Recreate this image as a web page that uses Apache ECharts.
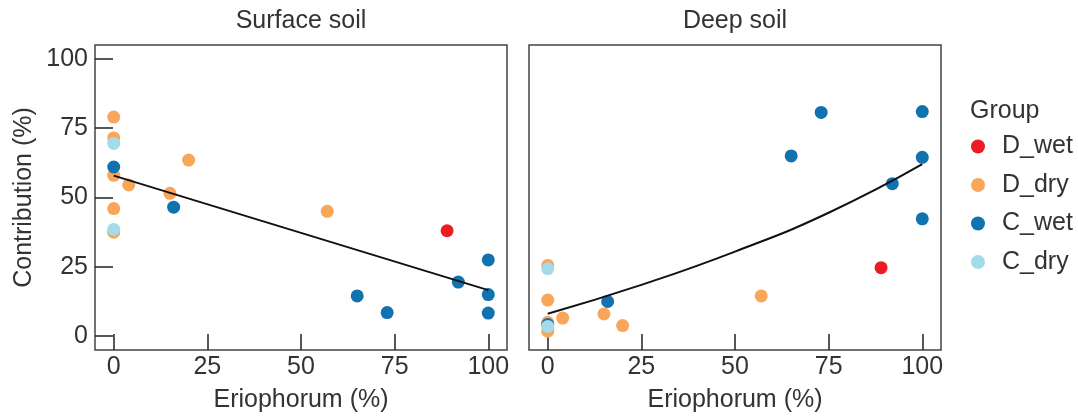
<!DOCTYPE html>
<html>
<head>
<meta charset="utf-8">
<script src="https://cdn.jsdelivr.net/npm/echarts@6/dist/echarts.min.js"></script>
<style>html,body{margin:0;padding:0;background:#fff;}#c{width:1078px;height:417px;}</style>
</head>
<body>
<div id="c"></div>
<script>
// ---- data ----
const panelTitles = ['Surface soil', 'Deep soil'];
const groups = ['D_wet', 'D_dry', 'C_wet', 'C_dry'];
const tickValues = [0, 25, 50, 75, 100];

// Surface soil: [Eriophorum %, Contribution %]
const surfDWet = [[89, 38]];
const surfDDry = [[0, 79], [0, 71.5], [0, 58], [0, 46], [0, 37.5], [4, 54.5], [15, 51.5], [20, 63.5], [57, 45]];
const surfCWet = [[0, 61], [16, 46.5], [65, 14.5], [73, 8.5], [92, 19.5], [100, 27.5], [100, 15], [100, 8.3]];
const surfCDry = [[0, 69.5], [0, 38.5]];
const surfFit = [[0, 57.9], [100, 16.6]];

// Deep soil
const deepDWet = [[89, 24.7]];
const deepDDry = [[0, 25.5], [0, 13], [0, 5], [0, 1.8], [4, 6.5], [15, 8], [20, 3.8], [57, 14.5]];
const deepCWet = [[0, 4.2], [16, 12.5], [65, 65], [73, 80.7], [92, 55], [100, 81], [100, 64.5], [100, 42.3]];
const deepCDry = [[0, 24.3], [0, 3.5]];
const deepFit = [[0, 8.1], [25, 18.5], [50, 30.5], [75, 44.5], [100, 62]];

// ---- style ----
const colors = { D_wet: '#ec1c24', D_dry: '#f9a65a', C_wet: '#1172b0', C_dry: '#a3dbe8' };
const FONT = 'Liberation Sans, Arial, sans-serif';
const TXT = '#333';
const FS = 25;

const grids = [
  { left: 95, top: 45, width: 412, height: 305, show: true, borderColor: '#444', borderWidth: 1.5, backgroundColor: 'transparent', containLabel: false, outerBoundsMode: 'none' },
  { left: 529, top: 45, width: 412, height: 305, show: true, borderColor: '#444', borderWidth: 1.5, backgroundColor: 'transparent', containLabel: false, outerBoundsMode: 'none' }
];

function xAxis(i) {
  return {
    type: 'value', gridIndex: i, min: -5, max: 105,
    name: 'Eriophorum (%)', nameLocation: 'middle', nameGap: 38,
    nameTextStyle: { fontFamily: FONT, fontSize: FS, color: TXT },
    axisLine: { show: false, onZero: false },
    splitLine: { show: false },
    axisTick: { show: true, inside: false, length: -16, customValues: tickValues, lineStyle: { color: '#222', width: 1.5 } },
    axisLabel: { show: true, customValues: tickValues, margin: 5, fontFamily: FONT, fontSize: FS, color: TXT }
  };
}
function yAxis(i) {
  return {
    type: 'value', gridIndex: i, min: -5, max: 105,
    name: i === 0 ? 'Contribution (%)' : '', nameLocation: 'middle', nameGap: 58,
    nameTextStyle: { fontFamily: FONT, fontSize: FS, color: TXT },
    axisLine: { show: false, onZero: false },
    splitLine: { show: false },
    axisTick: { show: i === 0, inside: false, length: -18, customValues: tickValues, lineStyle: { color: '#222', width: 1.5 } },
    axisLabel: { show: i === 0, customValues: tickValues, margin: 7, fontFamily: FONT, fontSize: FS, color: TXT }
  };
}

function scatter(name, data, i, z) {
  return {
    type: 'scatter', name: name, data: data, xAxisIndex: i, yAxisIndex: i,
    symbol: 'circle', symbolSize: 13, z: z,
    itemStyle: { color: colors[name], opacity: 1 },
    emphasis: { disabled: true }
  };
}
function fit(data, i) {
  return {
    type: 'line', data: data, xAxisIndex: i, yAxisIndex: i, smooth: true,
    symbol: 'none', z: 10, lineStyle: { color: '#111', width: 2 }, silent: true
  };
}

const series = [
  scatter('D_dry', surfDDry, 0, 2), scatter('C_wet', surfCWet, 0, 3), scatter('C_dry', surfCDry, 0, 4), scatter('D_wet', surfDWet, 0, 5),
  fit(surfFit, 0),
  scatter('D_dry', deepDDry, 1, 2), scatter('C_wet', deepCWet, 1, 3), scatter('C_dry', deepCDry, 1, 4), scatter('D_wet', deepDWet, 1, 5),
  fit(deepFit, 1)
];

const chart = echarts.init(document.getElementById('c'), null, { renderer: 'canvas' });
chart.setOption({
  animation: false,
  backgroundColor: '#fff',
  title: [
    { text: panelTitles[0], left: 301, top: 9, textAlign: 'center', padding: 0, textStyle: { fontFamily: FONT, fontSize: FS, fontWeight: 'normal', color: TXT } },
    { text: panelTitles[1], left: 735, top: 9, textAlign: 'center', padding: 0, textStyle: { fontFamily: FONT, fontSize: FS, fontWeight: 'normal', color: TXT } },
    { text: 'Group', left: 970, top: 99, padding: 0, textStyle: { fontFamily: FONT, fontSize: FS, fontWeight: 'normal', color: TXT } }
  ],
  legend: {
    data: groups, orient: 'vertical', left: 971, top: 134, padding: 0,
    itemWidth: 14, itemHeight: 14, itemGap: 13.5, icon: 'circle',
    textStyle: { fontFamily: FONT, fontSize: FS, color: TXT, padding: [0, 0, 0, 12] },
    selectedMode: false
  },
  grid: grids,
  xAxis: [xAxis(0), xAxis(1)],
  yAxis: [yAxis(0), yAxis(1)],
  series: series
});
</script>
</body>
</html>
